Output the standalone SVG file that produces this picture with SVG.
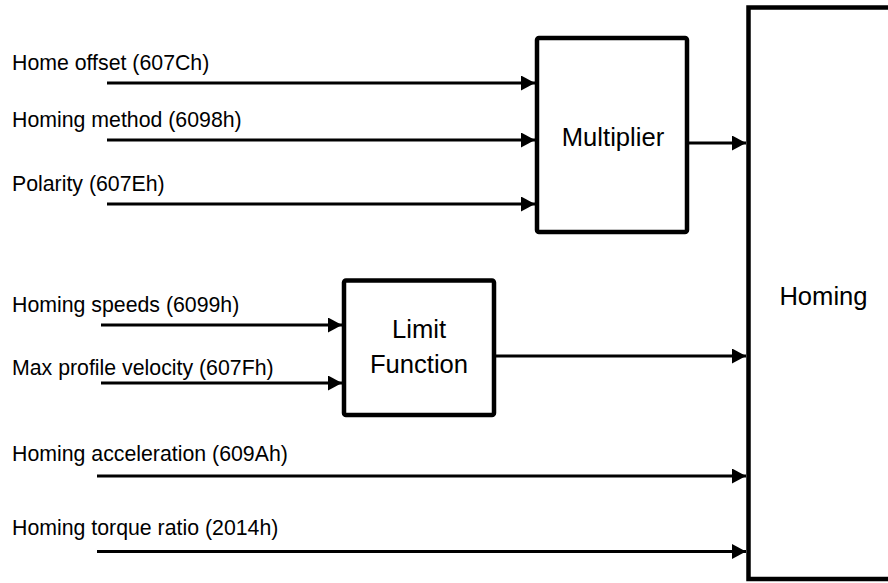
<svg xmlns="http://www.w3.org/2000/svg" width="888" height="583" viewBox="0 0 888 583">
<style>
.lbl{font-family:"Liberation Sans",Arial,sans-serif;font-size:21.3px;fill:#000}
.blbl{font-family:"Liberation Sans",Arial,sans-serif;font-size:25.6px;fill:#000}
.box{fill:#fff;stroke:#000;stroke-width:4.5}
.con{stroke:#000;stroke-width:3;fill:none;marker-end:url(#arr)}
</style>
<defs>
<marker id="arr" markerUnits="userSpaceOnUse" markerWidth="15" markerHeight="16" refX="14" refY="7.5" orient="auto">
<path d="M0,0 L14,7.5 L0,15 Z" fill="#000"/>
</marker>
</defs>
<rect width="888" height="583" fill="#fff"/>
<g id="labels">
<text class="lbl" x="12" y="70">Home offset (607Ch)</text>
<text class="lbl" x="12" y="127">Homing method (6098h)</text>
<text class="lbl" x="12" y="191">Polarity (607Eh)</text>
<text class="lbl" x="12" y="312">Homing speeds (6099h)</text>
<text class="lbl" x="12" y="375">Max profile velocity (607Fh)</text>
<text class="lbl" x="12" y="461">Homing acceleration (609Ah)</text>
<text class="lbl" x="12" y="535">Homing torque ratio (2014h)</text>
</g>
<g id="homing">
<rect class="box" x="748.5" y="7.5" width="150" height="571.5" stroke-width="5"/>
<text class="blbl" x="823.5" y="305" text-anchor="middle">Homing</text>
</g>
<g id="multiplier">
<rect class="box" x="537" y="38" width="150" height="194" rx="2"/>
<text class="blbl" x="613" y="146" text-anchor="middle">Multiplier</text>
</g>
<g id="limit">
<rect class="box" x="344" y="280.5" width="150" height="134.5" rx="2"/>
<text class="blbl" x="419" y="338" text-anchor="middle">Limit</text>
<text class="blbl" x="419" y="373" text-anchor="middle">Function</text>
</g>
<g id="connectors">
<line class="con" x1="107" y1="83" x2="535" y2="83"/>
<line class="con" x1="107" y1="140" x2="535" y2="140"/>
<line class="con" x1="107" y1="204" x2="535" y2="204"/>
<line class="con" x1="689" y1="143" x2="746" y2="143"/>
<line class="con" x1="101" y1="325" x2="342" y2="325"/>
<line class="con" x1="101" y1="383" x2="342" y2="383"/>
<line class="con" x1="496" y1="356" x2="746" y2="356"/>
<line class="con" x1="97" y1="476" x2="746" y2="476"/>
<line class="con" x1="97" y1="551.5" x2="746" y2="551.5"/>
</g>
</svg>
